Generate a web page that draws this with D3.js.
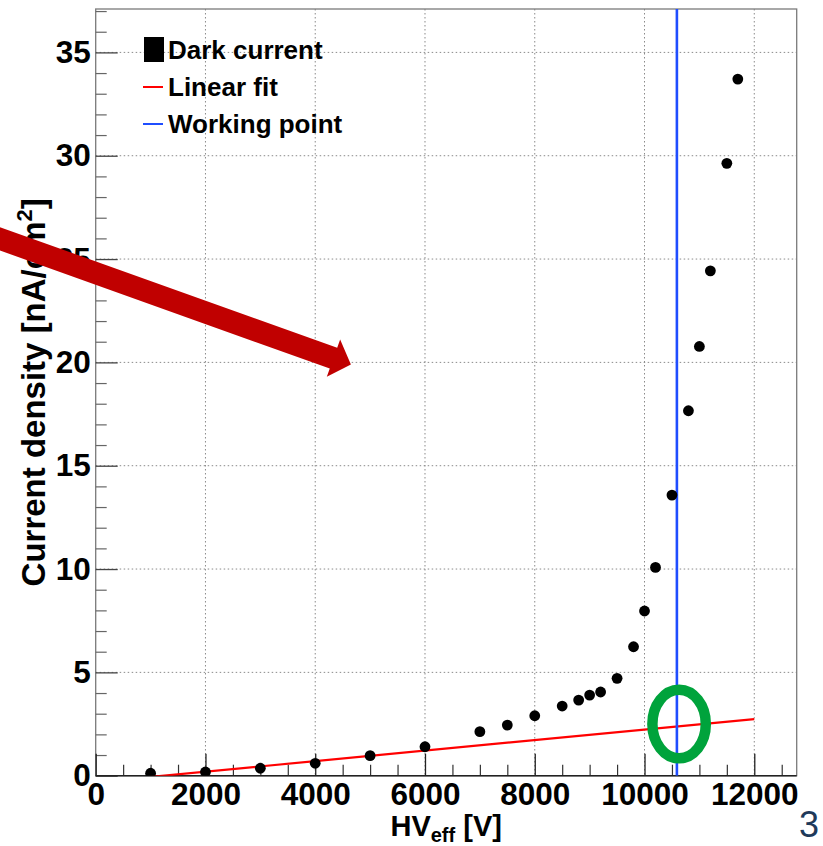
<!DOCTYPE html>
<html>
<head>
<meta charset="utf-8">
<script src="https://cdn.jsdelivr.net/npm/d3@7"></script>
<style>
  html, body { margin: 0; padding: 0; background: #fff; }
  svg { display: block; }
  text { font-family: "Liberation Sans", Arial, Helvetica, sans-serif; }
</style>
</head>
<body>
<svg id="chart" width="823" height="846"></svg>
<script>
// Dark current measurement: effective HV (V) vs current density (nA/cm^2)
const hvValues = [1000, 2000, 3000, 4000, 5000, 6000, 7000, 7500, 8000, 8500, 8800,
                  9000, 9200, 9500, 9800, 10000, 10200, 10500, 10800, 11000, 11200, 11500, 11700];
const currentDensity = [0.12, 0.18, 0.36, 0.60, 0.97, 1.40, 2.13, 2.45, 2.90, 3.37, 3.66,
                        3.90, 4.05, 4.71, 6.24, 7.97, 10.08, 13.58, 17.66, 20.77, 24.43, 29.63, 33.71];

// Linear fit of the ohmic part: J = intercept + slope * HV, drawn over [0, 12000] V
const fitSlope = 2.545e-4;
const fitIntercept = -0.3135;
const fitRange = [0, 12000];

// Working point (V)
const workingPoint = 10590;

// Axis ticks
const xMajorTicks = [0, 2000, 4000, 6000, 8000, 10000, 12000];
const xMinorTicks = d3.range(0, 12800, 500);
const yMajorTicks = [0, 5, 10, 15, 20, 25, 30, 35];
const yMinorTicks = d3.range(0, 38, 1);

// Legend entries
const legendLabels = ["Dark current", "Linear fit", "Working point"];

// Annotations: highlight around the fit / working point crossing and a pointer arrow
const highlightCenter = [10630, 2.5];
const arrowTip = [4650, 19.9];

const W = 823, H = 846;
const plot = { left: 95.7, top: 9, right: 796.7, bottom: 775.7 };

const svg = d3.select("#chart");

const x = d3.scaleLinear().domain([0, 12773]).range([plot.left, plot.right]);
const y = d3.scaleLinear().domain([0, 37.1]).range([plot.bottom, plot.top]);

svg.append("defs").append("clipPath").attr("id", "plotClip")
  .append("rect")
  .attr("x", plot.left).attr("y", plot.top)
  .attr("width", plot.right - plot.left).attr("height", plot.bottom - plot.top);

// Grid (dotted) at major ticks
const grid = svg.append("g");
grid.selectAll("line.gx").data(xMajorTicks.filter(d => d > 0)).join("line")
  .attr("x1", d => x(d)).attr("x2", d => x(d))
  .attr("y1", plot.top).attr("y2", plot.bottom)
  .attr("stroke", "#8a8a8a").attr("stroke-width", 1).attr("stroke-dasharray", "1.5,2.5");
grid.selectAll("line.gy").data(yMajorTicks.filter(d => d > 0)).join("line")
  .attr("y1", d => y(d)).attr("y2", d => y(d))
  .attr("x1", plot.left).attr("x2", plot.right)
  .attr("stroke", "#8a8a8a").attr("stroke-width", 1).attr("stroke-dasharray", "1.5,2.5");

// Frame
svg.append("rect")
  .attr("x", plot.left).attr("y", plot.top)
  .attr("width", plot.right - plot.left).attr("height", plot.bottom - plot.top)
  .attr("fill", "none").attr("stroke", "#7a7a7a").attr("stroke-width", 1.3);

// Axes: ticks point inward
function styleAxis(g, fontSize) {
  g.select(".domain").remove();
  g.selectAll("text")
    .attr("font-family", "'Liberation Sans', Arial, Helvetica, sans-serif")
    .attr("font-weight", "bold")
    .attr("font-size", fontSize)
    .attr("fill", "#000");
}

const yMinor = svg.append("g").attr("transform", `translate(${plot.left},0)`)
  .call(d3.axisLeft(y).tickValues(yMinorTicks.filter(d => d % 5 !== 0)).tickSize(-11).tickFormat(""));
yMinor.select(".domain").remove();
yMinor.selectAll("line").attr("stroke", "#666").attr("stroke-width", 1.2);

const yMajor = svg.append("g").attr("transform", `translate(${plot.left},0)`)
  .call(d3.axisLeft(y).tickValues(yMajorTicks).tickSize(-22).tickPadding(5).tickFormat(d3.format("d")));
styleAxis(yMajor, 31.5);
yMajor.selectAll("line").attr("stroke", "#444").attr("stroke-width", 1.3);

const xMinor = svg.append("g").attr("transform", `translate(0,${plot.bottom})`)
  .call(d3.axisBottom(x).tickValues(xMinorTicks.filter(d => d % 2000 !== 0)).tickSize(-11).tickFormat(""));
xMinor.select(".domain").remove();
xMinor.selectAll("line").attr("stroke", "#333").attr("stroke-width", 1.2);

const xMajor = svg.append("g").attr("transform", `translate(0,${plot.bottom})`)
  .call(d3.axisBottom(x).tickValues(xMajorTicks).tickSize(-22).tickPadding(7).tickFormat(d3.format("d")));
styleAxis(xMajor, 31.5);
xMajor.selectAll("line").attr("stroke", "#222").attr("stroke-width", 1.3);

// Bottom axis line
svg.append("line")
  .attr("x1", plot.left).attr("x2", plot.right)
  .attr("y1", plot.bottom).attr("y2", plot.bottom)
  .attr("stroke", "#222").attr("stroke-width", 1.4);

// Data layer (clipped to frame)
const data = hvValues.map((v, i) => ({ hv: v, j: currentDensity[i] }));
const layer = svg.append("g").attr("clip-path", "url(#plotClip)");

// Linear fit
const fitLine = d3.line().x(d => x(d)).y(d => y(fitIntercept + fitSlope * d));
layer.append("path")
  .datum(fitRange)
  .attr("d", fitLine)
  .attr("fill", "none").attr("stroke", "#ff0000").attr("stroke-width", 2.2);

// Working point
layer.append("line")
  .attr("x1", x(workingPoint)).attr("x2", x(workingPoint))
  .attr("y1", y(0)).attr("y2", y(37.1))
  .attr("stroke", "#1f4dff").attr("stroke-width", 2.6);

// Measured points
layer.selectAll("circle").data(data).join("circle")
  .attr("cx", d => x(d.hv)).attr("cy", d => y(d.j))
  .attr("r", 5.4).attr("fill", "#000");

// Axis titles
const yTitle = svg.append("text")
  .attr("transform", `translate(45,${(plot.top + plot.bottom) / 2}) rotate(-90)`)
  .attr("text-anchor", "middle")
  .attr("font-weight", "bold").attr("font-size", 33).attr("fill", "#000");
yTitle.append("tspan").text("Current density [nA/cm");
yTitle.append("tspan").attr("font-size", 22).attr("dy", -13).text("2");
yTitle.append("tspan").attr("dy", 13).text("]");

const xTitle = svg.append("text")
  .attr("x", (plot.left + plot.right) / 2).attr("y", 836)
  .attr("text-anchor", "middle")
  .attr("font-weight", "bold").attr("font-size", 29).attr("fill", "#000");
xTitle.append("tspan").text("HV");
xTitle.append("tspan").attr("font-size", 20).attr("dy", 6).text("eff");
xTitle.append("tspan").attr("dy", -6).text(" [V]");

// Legend
const legend = svg.append("g").attr("transform", "translate(143,0)");
const rowY = [50, 87, 124];
legend.append("rect").attr("x", 1).attr("y", rowY[0] - 13).attr("width", 20).attr("height", 25).attr("fill", "#000");
legend.append("line").attr("x1", 0).attr("x2", 20).attr("y1", rowY[1]).attr("y2", rowY[1])
  .attr("stroke", "#ff0000").attr("stroke-width", 2);
legend.append("line").attr("x1", 0).attr("x2", 20).attr("y1", rowY[2]).attr("y2", rowY[2])
  .attr("stroke", "#1f4dff").attr("stroke-width", 2);
legend.selectAll("text.lab").data(legendLabels).join("text")
  .attr("x", 25).attr("y", (d, i) => rowY[i] + 8.5)
  .attr("font-weight", "bold").attr("font-size", 26).attr("fill", "#000")
  .text(d => d);

// Highlight ellipse
svg.append("ellipse")
  .attr("cx", x(highlightCenter[0])).attr("cy", y(highlightCenter[1]))
  .attr("rx", 26.7).attr("ry", 34.3)
  .attr("fill", "none").attr("stroke", "#00a33c").attr("stroke-width", 10.5);

// Pointer arrow (tail runs off the left edge)
{
  const tx = x(arrowTip[0]), ty = y(arrowTip[1]);
  const ang = Math.atan(0.358);
  const ux = Math.cos(ang), uy = Math.sin(ang);   // along shaft
  const px = -uy, py = ux;                         // perpendicular
  const headLen = 18.5, headHalf = 19.8, shaftHalf = 11, tailLen = 420;
  const bx = tx - ux * headLen, by = ty - uy * headLen;
  const pts = [
    [tx, ty],
    [bx + px * headHalf, by + py * headHalf],
    [bx + px * shaftHalf, by + py * shaftHalf],
    [bx - ux * tailLen + px * shaftHalf, by - uy * tailLen + py * shaftHalf],
    [bx - ux * tailLen - px * shaftHalf, by - uy * tailLen - py * shaftHalf],
    [bx - px * shaftHalf, by - py * shaftHalf],
    [bx - px * headHalf, by - py * headHalf]
  ];
  svg.append("path")
    .attr("d", "M" + pts.map(p => p.join(",")).join("L") + "Z")
    .attr("fill", "#c00000");
}

// Slide page number
svg.append("text")
  .attr("x", 819).attr("y", 837)
  .attr("text-anchor", "end")
  .attr("font-family", "'Open Sans', 'Noto Sans', sans-serif")
  .attr("font-size", 36).attr("fill", "#1f3a5a")
  .text("3");
</script>
</body>
</html>
